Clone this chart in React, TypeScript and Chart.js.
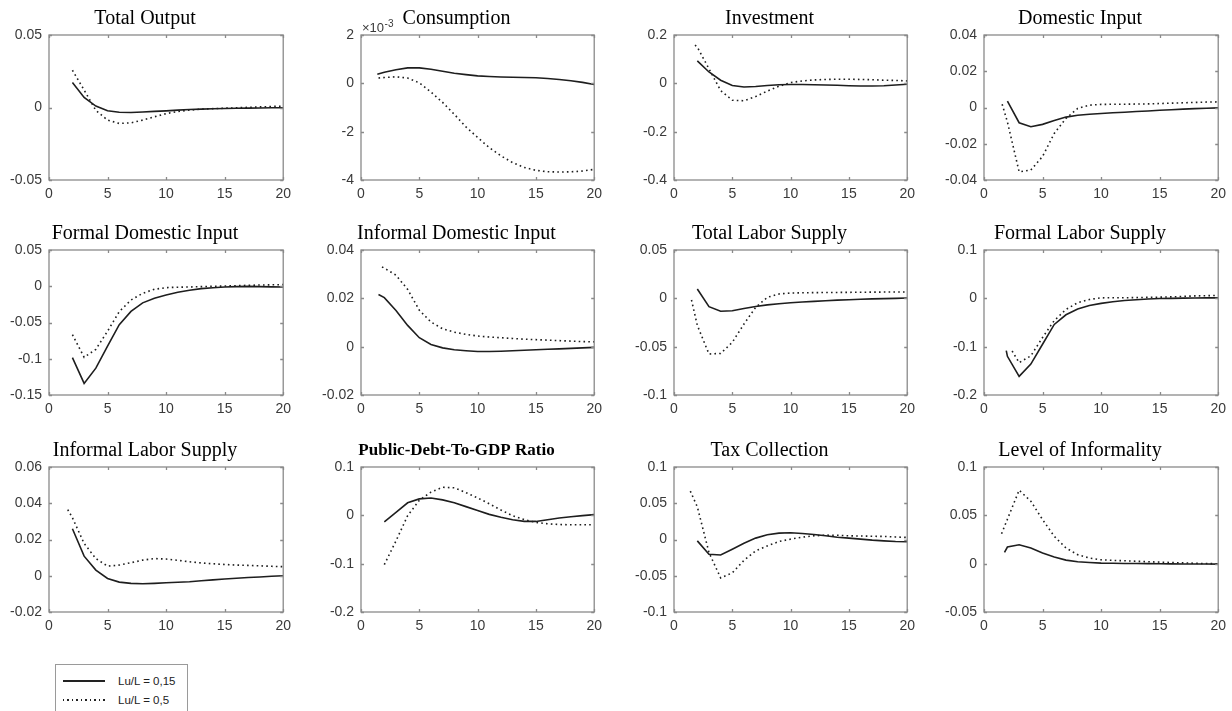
import React, { useEffect, useRef } from "react";
import { Chart, registerables } from "chart.js";

Chart.register(...registerables);

// ---------- DATA ----------
const periods = [2, 3, 4, 5, 6, 7, 8, 9, 10, 11, 12, 13, 14, 15, 16, 17, 18, 19, 20];
const xTicks = [0, 5, 10, 15, 20];
const legendLabels = ["Lu/L = 0,15", "Lu/L = 0,5"];

const titles = [
  "Total Output", "Consumption", "Investment", "Domestic Input",
  "Formal Domestic Input", "Informal Domestic Input", "Total Labor Supply", "Formal Labor Supply",
  "Informal Labor Supply", "Public-Debt-To-GDP Ratio", "Tax Collection", "Level of Informality",
];

// y-axis ranges [min, max, step]
const yRanges: [number, number, number][] = [
  [-0.05, 0.05, 0.05], [-4, 2, 2], [-0.4, 0.2, 0.2], [-0.04, 0.04, 0.02],
  [-0.15, 0.05, 0.05], [-0.02, 0.04, 0.02], [-0.1, 0.05, 0.05], [-0.2, 0.1, 0.1],
  [-0.02, 0.06, 0.02], [-0.2, 0.1, 0.1], [-0.1, 0.1, 0.05], [-0.05, 0.1, 0.05],
];

// Lu/L = 0,15 (solid) and Lu/L = 0,5 (dotted), values at periods 2..20
const totalOutputSolid = [0.0172, 0.0069, 0.001, -0.0023, -0.0033, -0.0034, -0.0031, -0.0027, -0.0023, -0.0018, -0.0014, -0.0011, -0.0009, -0.0007, -0.0005, -0.0004, -0.0003, -0.0002, -0.0002];
const totalOutputDotted = [0.0257, 0.012, -0.002, -0.0087, -0.011, -0.0106, -0.0087, -0.0064, -0.0042, -0.0028, -0.0018, -0.0011, -0.0008, -0.0005, -0.0002, 0.0001, 0.0004, 0.0007, 0.0009];

// consumption in units of 10^-3
const consumptionSolidLead: [number, number][] = [[1.4, 0.38]];
const consumptionSolid = [0.46, 0.56, 0.64, 0.64, 0.58, 0.5, 0.42, 0.36, 0.31, 0.28, 0.26, 0.25, 0.24, 0.23, 0.2, 0.16, 0.11, 0.04, -0.05];
const consumptionDottedLead: [number, number][] = [[1.5, 0.22]];
const consumptionDotted = [0.24, 0.27, 0.22, 0.02, -0.36, -0.79, -1.28, -1.8, -2.24, -2.66, -3.0, -3.28, -3.48, -3.6, -3.66, -3.67, -3.66, -3.63, -3.56];

const investmentSolid = [0.093, 0.047, 0.013, -0.009, -0.015, -0.013, -0.009, -0.006, -0.005, -0.005, -0.006, -0.007, -0.008, -0.01, -0.011, -0.011, -0.01, -0.007, -0.004];
const investmentDottedLead: [number, number][] = [[1.8, 0.158]];
const investmentDotted = [0.15, 0.06, -0.03, -0.07, -0.072, -0.055, -0.032, -0.012, 0.003, 0.01, 0.014, 0.016, 0.017, 0.017, 0.016, 0.015, 0.013, 0.012, 0.01];

const domesticInputSolid = [0.0035, -0.0084, -0.0106, -0.0093, -0.0072, -0.0053, -0.0043, -0.0037, -0.0033, -0.0029, -0.0026, -0.0022, -0.0019, -0.0015, -0.0012, -0.0009, -0.0006, -0.0004, -0.0002];
const domesticInputDottedLead: [number, number][] = [[1.55, 0.0018]];
const domesticInputDotted = [-0.008, -0.0355, -0.0345, -0.027, -0.0143, -0.006, -0.0005, 0.0013, 0.0017, 0.0018, 0.0018, 0.0019, 0.002, 0.0022, 0.0024, 0.0026, 0.0028, 0.003, 0.0031];

const formalDomInputSolid = [-0.0985, -0.134, -0.113, -0.0826, -0.053, -0.0347, -0.0229, -0.0165, -0.012, -0.0083, -0.0056, -0.0033, -0.002, -0.001, -0.0005, -0.0002, -0.0005, -0.0008, -0.001];
const formalDomInputDotted = [-0.0667, -0.098, -0.087, -0.062, -0.035, -0.019, -0.0097, -0.0042, -0.0019, -0.0013, -0.001, -0.0005, 0, 0.0003, 0.0008, 0.0013, 0.0017, 0.002, 0.0022];

const informalDomInputSolidLead: [number, number][] = [[1.5, 0.0216]];
const informalDomInputSolid = [0.0203, 0.015, 0.0088, 0.0037, 0.0009, -0.0005, -0.0013, -0.0017, -0.002, -0.002, -0.0019, -0.0017, -0.0015, -0.0013, -0.0011, -0.0009, -0.0007, -0.0005, -0.0003];
const informalDomInputDottedLead: [number, number][] = [[1.8, 0.033]];
const informalDomInputDotted = [0.0325, 0.0296, 0.0237, 0.0151, 0.0102, 0.0074, 0.006, 0.0051, 0.0044, 0.004, 0.0037, 0.0034, 0.0031, 0.0029, 0.0027, 0.0025, 0.0023, 0.0021, 0.002];

const totalLaborSolid = [0.0097, -0.0086, -0.0134, -0.0128, -0.0105, -0.0085, -0.0068, -0.0056, -0.0046, -0.0038, -0.0031, -0.0025, -0.0019, -0.0014, -0.001, -0.0006, -0.0003, 0, 0.0003];
const totalLaborDottedLead: [number, number][] = [[1.5, -0.0017]];
const totalLaborDotted = [-0.028, -0.0576, -0.057, -0.0455, -0.0266, -0.0093, 0.001, 0.0045, 0.0055, 0.0057, 0.0059, 0.006, 0.0061, 0.0062, 0.0063, 0.0064, 0.0065, 0.0065, 0.0066];

const formalLaborSolidLead: [number, number][] = [[1.9, -0.108]];
const formalLaborSolid = [-0.12, -0.1615, -0.136, -0.095, -0.054, -0.034, -0.022, -0.015, -0.0105, -0.007, -0.0045, -0.003, -0.0015, -0.0005, 0, 0.0005, 0.0008, 0.001, 0.001];
const formalLaborDottedLead: [number, number][] = [[2.4, -0.109]];
const formalLaborDotted = [null, -0.133, -0.119, -0.081, -0.046, -0.023, -0.009, -0.0023, 0.001, 0.0012, 0.0012, 0.0015, 0.002, 0.0025, 0.003, 0.004, 0.005, 0.0055, 0.006];

const informalLaborSolid = [0.0259, 0.0108, 0.0031, -0.0015, -0.0035, -0.0042, -0.0044, -0.0042, -0.0039, -0.0036, -0.0033, -0.0028, -0.0023, -0.0018, -0.0014, -0.001, -0.0007, -0.0003, 0];
const informalLaborDottedLead: [number, number][] = [[1.6, 0.0365]];
const informalLaborDotted = [0.032, 0.0178, 0.0095, 0.0053, 0.0059, 0.0072, 0.0086, 0.0095, 0.0092, 0.0085, 0.0077, 0.0071, 0.0066, 0.0062, 0.0059, 0.0057, 0.0055, 0.0052, 0.005];

const debtRatioSolid = [-0.0133, 0.0063, 0.026, 0.034, 0.036, 0.032, 0.026, 0.018, 0.0098, 0.002, -0.004, -0.009, -0.0125, -0.0126, -0.009, -0.0056, -0.0028, -0.0007, 0.0014];
const debtRatioDotted = [-0.102, -0.053, -0.0007, 0.031, 0.048, 0.058, 0.057, 0.047, 0.036, 0.024, 0.011, -0.0007, -0.009, -0.0147, -0.0175, -0.019, -0.0196, -0.0196, -0.0196];

const taxSolid = [-0.0019, -0.0204, -0.0213, -0.0134, -0.0051, 0.0019, 0.0065, 0.0088, 0.0093, 0.0083, 0.0069, 0.0051, 0.0032, 0.0019, 0.0005, -0.0009, -0.0019, -0.0028, -0.0032];
const taxDottedLead: [number, number][] = [[1.4, 0.0667]];
const taxDotted = [0.045, -0.018, -0.053, -0.046, -0.0287, -0.0157, -0.0088, -0.0028, 0.0005, 0.0032, 0.0051, 0.006, 0.0058, 0.0051, 0.0048, 0.0045, 0.0042, 0.0035, 0.0028];

const informalitySolidLead: [number, number][] = [[1.75, 0.0117]];
const informalitySolid = [0.0172, 0.0196, 0.0162, 0.011, 0.0068, 0.0037, 0.002, 0.0012, 0.0006, 0.0004, 0.0002, 0.0001, 0, -0.0001, -0.0002, -0.0003, -0.0004, -0.0004, -0.0005];
const informalityDottedLead: [number, number][] = [[1.5, 0.031]];
const informalityDotted = [0.046, 0.076, 0.0646, 0.0456, 0.0283, 0.0162, 0.0093, 0.0058, 0.004, 0.0034, 0.003, 0.0025, 0.002, 0.0016, 0.0012, 0.0008, 0.0004, 0.0001, -0.0001];

const seriesTable: [[number, number][], (number | null)[], [number, number][], (number | null)[]][] = [
  [[], totalOutputSolid, [], totalOutputDotted],
  [consumptionSolidLead, consumptionSolid, consumptionDottedLead, consumptionDotted],
  [[], investmentSolid, investmentDottedLead, investmentDotted],
  [[], domesticInputSolid, domesticInputDottedLead, domesticInputDotted],
  [[], formalDomInputSolid, [], formalDomInputDotted],
  [informalDomInputSolidLead, informalDomInputSolid, informalDomInputDottedLead, informalDomInputDotted],
  [[], totalLaborSolid, totalLaborDottedLead, totalLaborDotted],
  [formalLaborSolidLead, formalLaborSolid, formalLaborDottedLead, formalLaborDotted],
  [[], informalLaborSolid, informalLaborDottedLead, informalLaborDotted],
  [[], debtRatioSolid, [], debtRatioDotted],
  [[], taxSolid, taxDottedLead, taxDotted],
  [informalitySolidLead, informalitySolid, informalityDottedLead, informalityDotted],
];

// ---------- LAYOUT ----------
const colLeft = [49, 361, 674, 984];
const colWidth = [237, 236, 236, 237];
const rowTop = [35, 250, 467];
const plotH = 145;
const yAxisW = 45;
const titleH = 35;
const xAxisH = 25;
const padRight = 11;

const SANS = "'Liberation Sans', Arial, Helvetica, sans-serif";
const SERIF = "'Liberation Serif', 'Times New Roman', Times, serif";
const frameColor = "#8a8a8a";
const tickColor = "#3a3a3a";

const toPoints = (lead: [number, number][], vals: (number | null)[]) => [
  ...lead.map(([x, y]) => ({ x, y })),
  ...periods.map((p, i) => ({ x: p, y: vals[i] })).filter((pt) => pt.y !== null),
];

const fmt = (v: number) => {
  const r = Math.round(v * 1e6) / 1e6;
  return String(r);
};

const framePlugin = {
  id: "frame",
  afterDraw(chart: any) {
    const { ctx, chartArea: a, scales } = chart;
    ctx.save();
    ctx.strokeStyle = frameColor;
    ctx.lineWidth = 1.3;
    const tl = 3;
    ctx.beginPath();
    scales.x.ticks.forEach((t: any) => {
      const px = Math.round(scales.x.getPixelForValue(t.value)) + 0.5;
      ctx.moveTo(px, a.bottom);
      ctx.lineTo(px, a.bottom - tl);
      ctx.moveTo(px, a.top);
      ctx.lineTo(px, a.top + tl);
    });
    scales.y.ticks.forEach((t: any) => {
      const py = Math.round(scales.y.getPixelForValue(t.value)) + 0.5;
      ctx.moveTo(a.left, py);
      ctx.lineTo(a.left + tl, py);
      ctx.moveTo(a.right, py);
      ctx.lineTo(a.right - tl, py);
    });
    ctx.stroke();
    ctx.strokeRect(a.left, a.top, a.right - a.left, a.bottom - a.top);
    ctx.restore();
  },
};

const exponentPlugin = {
  id: "exponent",
  afterDraw(chart: any) {
    const opts = chart.options.plugins.exponent;
    if (!opts || !opts.show) return;
    const { ctx, chartArea: a } = chart;
    ctx.save();
    ctx.fillStyle = tickColor;
    ctx.textBaseline = "alphabetic";
    ctx.textAlign = "left";
    ctx.font = `13px ${SANS}`;
    const base = "\u00d710";
    ctx.fillText(base, a.left + 1, a.top - 3);
    const w = ctx.measureText(base).width;
    ctx.font = `10px ${SANS}`;
    ctx.fillText("-3", a.left + 1 + w + 0.5, a.top - 8);
    ctx.restore();
  },
};

function Panel({ idx }: { idx: number }) {
  const ref = useRef<HTMLCanvasElement | null>(null);
  const row = Math.floor(idx / 4);
  const col = idx % 4;
  const w = colWidth[col] + yAxisW + padRight;
  const h = titleH + plotH + xAxisH;
  const left = colLeft[col] - yAxisW;
  const top = rowTop[row] - titleH;

  useEffect(() => {
    if (!ref.current) return;
    const [sLead, sVals, dLead, dVals] = seriesTable[idx];
    const [yMin, yMax, yStep] = yRanges[idx];
    const isDebt = idx === 9;
    const chart = new Chart(ref.current, {
      type: "line",
      data: {
        datasets: [
          {
            label: legendLabels[0],
            data: toPoints(sLead, sVals),
            borderColor: "#1e1e1e",
            borderWidth: 1.6,
            pointRadius: 0,
            fill: false,
            tension: 0,
          },
          {
            label: legendLabels[1],
            data: toPoints(dLead, dVals),
            borderColor: "#1e1e1e",
            borderWidth: 1.6,
            borderDash: [1.6, 3.2],
            pointRadius: 0,
            fill: false,
            tension: 0,
          },
        ],
      },
      options: {
        animation: false,
        responsive: false,
        devicePixelRatio: 1,
        layout: { padding: { left: 0, right: padRight, top: 0, bottom: 0 } },
        plugins: {
          legend: { display: false },
          tooltip: { enabled: false },
          title: {
            display: true,
            text: titles[idx],
            color: "#000000",
            font: {
              family: SERIF,
              size: isDebt ? 17 : 20,
              weight: isDebt ? "bold" : "normal",
              lineHeight: "24px",
            },
            padding: { top: 7, bottom: 4 },
          },
          exponent: { show: idx === 1 },
        } as any,
        scales: {
          x: {
            type: "linear",
            min: 0,
            max: 20,
            afterBuildTicks: (s: any) => {
              s.ticks = xTicks.map((v) => ({ value: v }));
            },
            afterFit: (s: any) => {
              s.height = xAxisH;
            },
            grid: { display: false, drawTicks: false },
            border: { display: false },
            ticks: {
              color: tickColor,
              font: { family: SANS, size: 14 },
              padding: 6,
              maxRotation: 0,
              autoSkip: false,
              callback: (v: any) => fmt(Number(v)),
            },
          },
          y: {
            type: "linear",
            min: yMin,
            max: yMax,
            afterBuildTicks: (s: any) => {
              const vals: number[] = [];
              const n = Math.round((yMax - yMin) / yStep);
              for (let i = 0; i <= n; i++) vals.push(Math.round((yMin + i * yStep) * 1e6) / 1e6);
              s.ticks = vals.map((v) => ({ value: v }));
            },
            afterFit: (s: any) => {
              s.width = yAxisW;
            },
            grid: { display: false, drawTicks: false },
            border: { display: false },
            ticks: {
              color: tickColor,
              font: { family: SANS, size: 14 },
              padding: 7,
              autoSkip: false,
              callback: (v: any) => fmt(Number(v)),
            },
          },
        },
      } as any,
      plugins: [framePlugin, exponentPlugin],
    });
    return () => chart.destroy();
  }, [idx]);

  return (
    <canvas
      ref={ref}
      width={w}
      height={h}
      style={{ position: "absolute", left, top, width: w, height: h, display: "block" }}
    />
  );
}

function Legend() {
  const rowStyle: React.CSSProperties = {
    position: "absolute",
    left: 62,
    fontFamily: SANS,
    fontSize: 11.5,
    color: "#222",
    lineHeight: "14px",
    whiteSpace: "nowrap",
  };
  return (
    <div>
      <div
        style={{
          position: "absolute",
          left: 55,
          top: 664,
          width: 133,
          height: 60,
          border: "1px solid #9a9a9a",
          background: "#fff",
          boxSizing: "border-box",
        }}
      >
        <div style={{ position: "absolute", left: 7, top: 15, width: 42, height: 1.5, background: "#222" }} />
        <div style={{ ...rowStyle, top: 9 }}>{legendLabels[0]}</div>
        <div
          style={{
            position: "absolute",
            left: 7,
            top: 34,
            width: 42,
            height: 1.5,
            background: "repeating-linear-gradient(to right, #222 0 1.5px, transparent 1.5px 4.5px)",
          }}
        />
        <div style={{ ...rowStyle, top: 28 }}>{legendLabels[1]}</div>
      </div>
    </div>
  );
}

export default function App() {
  return (
    <div
      style={{
        position: "fixed",
        left: 0,
        top: 0,
        width: 1232,
        height: 711,
        background: "#ffffff",
        overflow: "hidden",
      }}
    >
      {titles.map((_, i) => (
        <Panel key={i} idx={i} />
      ))}
      <Legend />
    </div>
  );
}
